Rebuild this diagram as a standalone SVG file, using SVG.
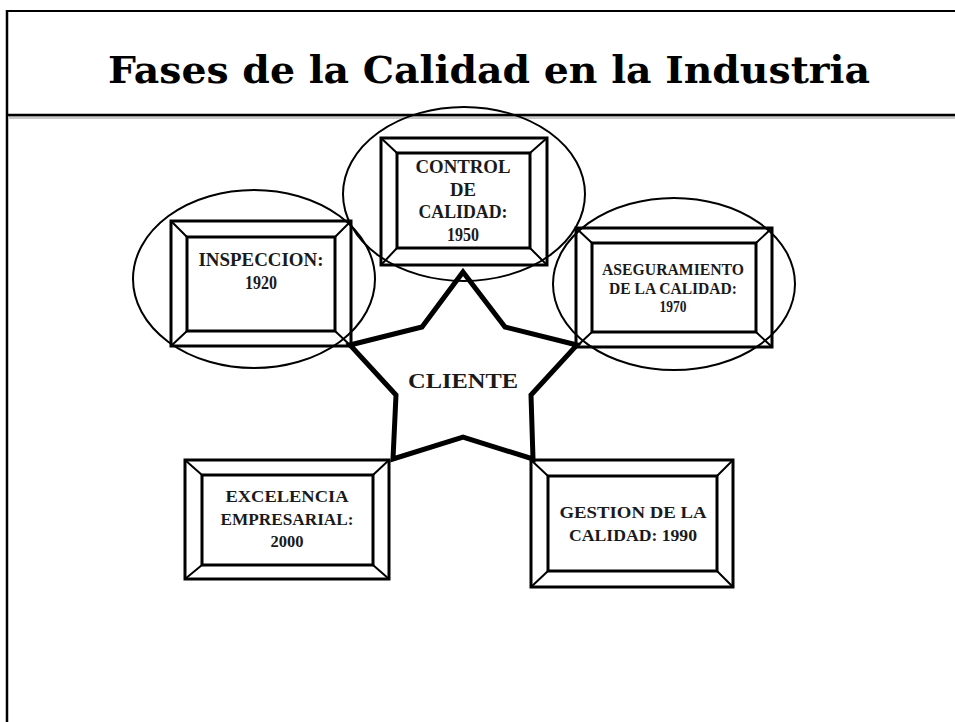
<svg xmlns="http://www.w3.org/2000/svg" width="955" height="722" viewBox="0 0 955 722">
<style>
.frame{fill:none;stroke:#000;stroke-width:3}
.bev{fill:none;stroke:#000;stroke-width:2}
.ell{fill:none;stroke:#000;stroke-width:2}
.t{font-family:"Liberation Serif","Times New Roman",serif;font-weight:bold;fill:#1a1a1a;text-anchor:middle}
.title{font-family:"DejaVu Serif","Liberation Serif",serif;font-weight:bold;fill:#000}
</style>
<rect x="0" y="0" width="955" height="722" fill="#fff"/>
<g id="slide-frame">
<line x1="7" y1="11" x2="955" y2="11" stroke="#000" stroke-width="2"/>
<line x1="7" y1="10" x2="7" y2="722" stroke="#000" stroke-width="2.5"/>
<line x1="8" y1="117.5" x2="955" y2="117.5" stroke="#c8c8c8" stroke-width="3"/>
<line x1="8" y1="115" x2="955" y2="115" stroke="#000" stroke-width="2.5"/>
</g>
<text id="title" class="title" x="108" y="83" font-size="38" textLength="762" lengthAdjust="spacingAndGlyphs">Fases de la Calidad en la Industria</text>

<g id="ellipses">
<ellipse class="ell" cx="254" cy="279" rx="121" ry="89"/>
<ellipse class="ell" cx="464" cy="194" rx="121" ry="87"/>
<ellipse class="ell" cx="674" cy="284" rx="121" ry="86"/>
</g>

<g id="node-inspeccion">
<rect class="frame" x="171" y="221" width="180" height="125"/>
<rect class="frame" x="187" y="237" width="148" height="94"/>
<path class="bev" d="M171 221L187 237M351 221L335 237M171 346L187 331M351 346L335 331"/>
<text class="t" x="261" y="266" font-size="18" textLength="125" lengthAdjust="spacingAndGlyphs">INSPECCION:</text>
<text class="t" x="261" y="289" font-size="18" textLength="32" lengthAdjust="spacingAndGlyphs">1920</text>
</g>

<g id="node-control">
<rect class="frame" x="381" y="138" width="166" height="127"/>
<rect class="frame" x="397" y="153" width="133" height="95"/>
<path class="bev" d="M381 138L397 153M547 138L530 153M381 265L397 248M547 265L530 248"/>
<text class="t" x="463" y="173" font-size="18" textLength="95" lengthAdjust="spacingAndGlyphs">CONTROL</text>
<text class="t" x="463" y="196" font-size="18" textLength="26" lengthAdjust="spacingAndGlyphs">DE</text>
<text class="t" x="463" y="218" font-size="18" textLength="89" lengthAdjust="spacingAndGlyphs">CALIDAD:</text>
<text class="t" x="463" y="241" font-size="18" textLength="32" lengthAdjust="spacingAndGlyphs">1950</text>
</g>

<g id="node-aseguramiento">
<rect class="frame" x="576" y="228" width="196" height="119"/>
<rect class="frame" x="592" y="243" width="164" height="89"/>
<path class="bev" d="M576 228L592 243M772 228L756 243M576 347L592 332M772 347L756 332"/>
<text class="t" x="673" y="275" font-size="15.7" textLength="142" lengthAdjust="spacingAndGlyphs">ASEGURAMIENTO</text>
<text class="t" x="673" y="294" font-size="15.7" textLength="128" lengthAdjust="spacingAndGlyphs">DE LA CALIDAD:</text>
<text class="t" x="673" y="312" font-size="15.7" textLength="27" lengthAdjust="spacingAndGlyphs">1970</text>
</g>

<g id="node-excelencia">
<rect class="frame" x="185" y="460" width="204" height="119"/>
<rect class="frame" x="202" y="475" width="171" height="90"/>
<path class="bev" d="M185 460L202 475M389 460L373 475M185 579L202 565M389 579L373 565"/>
<text class="t" x="287" y="502" font-size="17" textLength="123" lengthAdjust="spacingAndGlyphs">EXCELENCIA</text>
<text class="t" x="287" y="525" font-size="17" textLength="133" lengthAdjust="spacingAndGlyphs">EMPRESARIAL:</text>
<text class="t" x="287" y="547" font-size="17" textLength="33" lengthAdjust="spacingAndGlyphs">2000</text>
</g>

<g id="node-gestion">
<rect class="frame" x="531" y="460" width="202" height="127"/>
<rect class="frame" x="548" y="476" width="169" height="95"/>
<path class="bev" d="M531 460L548 476M733 460L717 476M531 587L548 571M733 587L717 571"/>
<text class="t" x="633" y="518" font-size="17" textLength="147" lengthAdjust="spacingAndGlyphs">GESTION DE LA</text>
<text class="t" x="633" y="541" font-size="17" textLength="128" lengthAdjust="spacingAndGlyphs">CALIDAD: 1990</text>
</g>

<g id="connectors">
<polygon points="463,272 505,327 577,345 531,395 533,459 463,437 393,459 396,395 350,345 422,327" fill="none" stroke="#000" stroke-width="5" stroke-linejoin="miter"/>
</g>

<g id="node-cliente">
<text class="t" x="463" y="388" font-size="22" textLength="110" lengthAdjust="spacingAndGlyphs">CLIENTE</text>
</g>
</svg>
